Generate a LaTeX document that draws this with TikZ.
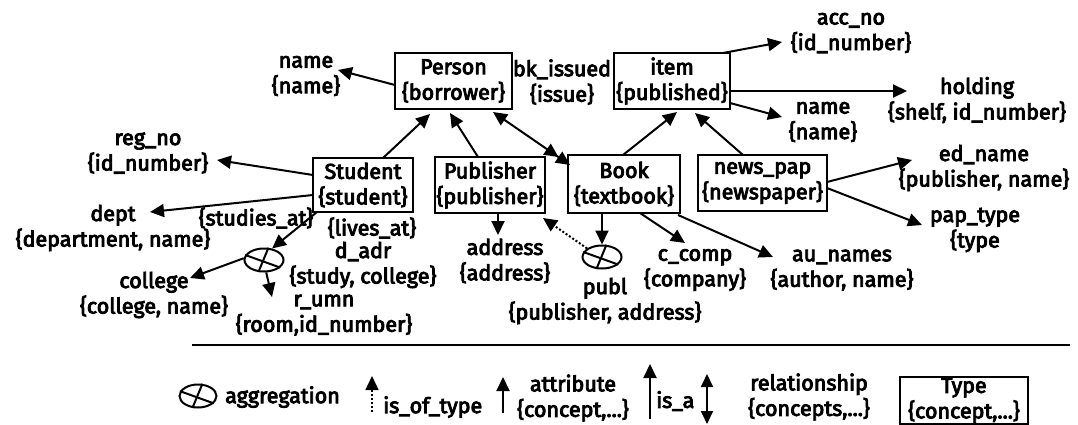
\documentclass[tikz,border=0pt]{standalone}
\usepackage{fontspec}
\setmainfont{Fira Sans}[FakeBold=4]
\usetikzlibrary{arrows.meta,calc,shapes.geometric}

\tikzset{
  lbl/.style={font=\fontsize{21.5}{25.5}\selectfont, align=center, inner sep=0pt},
  typebox/.style={lbl, draw, line width=2.2pt, inner sep=0pt},
  att/.style={line width=2pt, -{Triangle[length=14pt,width=13pt]}},
  rel/.style={line width=2pt, {Triangle[length=14pt,width=13pt]}-{Triangle[length=14pt,width=13pt]Triangle[length=14pt,width=13pt]}},
  isof/.style={line width=2pt, dotted, -{Triangle[length=14pt,width=13pt]}},
  aggr/.style={draw, ellipse, line width=2pt, minimum width=39pt, minimum height=23pt, inner sep=0pt},
}
\newcommand{\aggcross}[1]{%
  \draw[line width=2pt] (#1.70) -- (#1.245);
  \draw[line width=2pt] (#1.165) -- (#1.-25);
}

\begin{document}
\begin{tikzpicture}[x=1pt,y=-1pt]
\useasboundingbox (0,0) rectangle (1078,425);

% concept boxes
\node[typebox, minimum width=117pt, minimum height=56pt] (person) at (453.5,81) {Person\\\{borrower\}};
\node[typebox, minimum width=116pt, minimum height=56pt] (item) at (672,81) {item\\\{published\}};
\node[typebox, minimum width=100pt, minimum height=54pt] (student) at (363,185) {Student\\\{student\}};
\node[typebox, minimum width=110pt, minimum height=56pt] (publisher) at (490,185) {Publisher\\\{publisher\}};
\node[typebox, minimum width=112pt, minimum height=58pt] (book) at (624,184) {Book\\\{textbook\}};
\node[typebox, minimum width=129pt, minimum height=56pt] (newspap) at (762.5,183) {news\_pap\\\{newspaper\}};

% attribute labels
\node[lbl] (pname) at (306,76) {name\\\{name\}};
\node[lbl] (bk) at (562,82) {bk\_issued\\\{issue\}};
\node[lbl] (acc) at (851,33) {acc\_no\\\{id\_number\}};
\node[lbl] (hold) at (977,100) {holding\\\{shelf, id\_number\}};
\node[lbl] (iname) at (823,122) {name\\\{name\}};
\node[lbl] (reg) at (148,153) {reg\_no\\\{id\_number\}};
\node[lbl] (dept) at (113,228) {dept\\\{department, name\}};
\node[lbl] (studies) at (256,218) {\{studies\_at\}};
\node[lbl] (lives) at (372,228) {\{lives\_at\}};
\node[lbl] (dadr) at (363,265) {d\_adr\\\{study, college\}};
\node[lbl] (rumn) at (324,315) {r\_umn\\\{room,id\_number\}};
\node[lbl] (college) at (154,295) {college\\\{college, name\}};
\node[lbl] (address) at (505,261) {address\\\{address\}};
\node[lbl] (publ) at (605,301) {publ\\\{publisher, address\}};
\node[lbl] (ccomp) at (695,270) {c\_comp\\\{company\}};
\node[lbl] (au) at (842,270) {au\_names\\\{author, name\}};
\node[lbl] (ed) at (984,168) {ed\_name\\\{publisher, name\}};
\node[lbl] (pap) at (975,230) {pap\_type\\\{type};

% aggregations
\node[aggr] (aggS) at (264,260) {};
\node[aggr] (aggB) at (602,257) {};
\aggcross{aggS}
\aggcross{aggB}

% connectors
\draw[att] ($(person)+(-58.5,4)$) -- ($(pname)+(32,-6)$);
\draw[att] ($(student)+(20,-27)$) -- ($(person)+(-23.5,33)$);
\draw[att] ($(publisher)+(-12,-28)$) -- ($(person)+(-3.5,32)$);
\draw[rel] ($(person)+(39.5,31)$) -- ($(book)+(-54,-19)$);
\draw[att] ($(book)+(-1,-29)$) -- ($(item)+(5,31)$);
\draw[att] ($(newspap)+(-19.5,-28)$) -- ($(item)+(23,32)$);
\draw[att] ($(item)+(51,-28)$) -- ($(acc)+(-69,9)$);
\draw[att] ($(item)+(58,10)$) -- ($(hold)+(-70,-9)$);
\draw[att] ($(item)+(58,22)$) -- ($(iname)+(-41,-5)$);
\draw[att] ($(student)+(-50,-10)$) -- ($(reg)+(69,7)$);
\draw[att] ($(student)+(-50,10)$) -- ($(dept)+(37,-16)$);
\draw[att] ($(student)+(-46,27)$) -- (aggS.55);
\draw[att] (aggS.175) -- ($(college)+(36,-17)$);
\draw[att] (aggS.-80) -- ($(rumn)+(-52,-18)$);
\draw[att] ($(publisher)+(8,28)$) -- ($(address)+(-7,-26)$);
\draw[isof] (aggB.150) -- ($(publisher)+(53,33)$);
\draw[att] ($(book)+(-22,29)$) -- (aggB.north);
\draw[att] ($(book)+(16,29)$) -- ($(ccomp)+(-10,-27)$);
\draw[att] ($(book)+(54,31)$) -- ($(au)+(-69,-13)$);
\draw[att] ($(newspap)+(64.5,-1)$) -- ($(ed)+(-72,-8)$);
\draw[att] ($(newspap)+(64.5,5)$) -- ($(pap)+(-53,-5)$);

% separator
\draw[line width=2pt] (192,345) -- (1070,345);

% legend
\node[aggr, minimum width=37pt, minimum height=23pt] (lagg) at (198,396) {};
\aggcross{lagg}
\node[lbl, anchor=west] (laggt) at (225,397) {aggregation};
\coordinate (lofa) at (372,412);
\coordinate (lofb) at (372,376);
\draw[isof, line width=1.4pt] (lofa) -- (lofb);
\node[lbl, anchor=west] (lof) at (383,407) {is\_of\_type};
\coordinate (latta) at (503,413);
\coordinate (lattb) at (503,377);
\draw[att] (latta) -- (lattb);
\node[lbl] (latt) at (573,398) {attribute\\\{concept,...\}};
\coordinate (lisa) at (650,419);
\coordinate (lisb) at (650,364);
\draw[att] (lisa) -- (lisb);
\node[lbl, anchor=west] (lis) at (656,401) {is\_a};
\coordinate (lrela) at (707,374);
\coordinate (lrelb) at (707,424);
\draw[line width=2pt, {Triangle[length=13pt,width=12pt]}-{Triangle[length=13pt,width=12pt]}] (lrela) -- (lrelb);
\node[lbl] (lrel) at (809,397) {relationship\\\{concepts,...\}};
\node[typebox, minimum width=128pt, minimum height=47pt] (ltype) at (964,400.5) {Type\\\{concept,...\}};
\end{tikzpicture}
\end{document}
